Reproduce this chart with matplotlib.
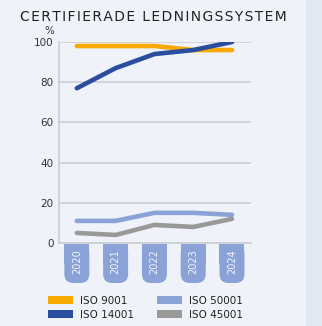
import matplotlib.pyplot as plt
from matplotlib.patches import Rectangle, FancyBboxPatch, Patch

years = ['2020', '2021', '2022', '2023', '2024']
iso9001 = [98, 98, 98, 96, 96]
iso14001 = [77, 87, 94, 96, 100]
iso50001 = [11, 11, 15, 15, 14]
iso45001 = [5, 4, 9, 8, 12]

series = [
    ('ISO 9001', iso9001, '#F7A900'),
    ('ISO 14001', iso14001, '#2A4D9E'),
    ('ISO 50001', iso50001, '#8AA2D6'),
    ('ISO 45001', iso45001, '#999999'),
]

bg = '#EFF3F9'
W, H = 322, 326
fig = plt.figure(figsize=(W / 100, H / 100), dpi=100, facecolor=bg)

# darker strip on the right edge
fig.patches.append(Rectangle((306 / W, 0), 16 / W, 1, transform=fig.transFigure,
                             facecolor='#E1E8F1', edgecolor='none', zorder=0))

left, right, top, bottom = 59, 251, 42, 243
ax = fig.add_axes([left / W, 1 - bottom / H, (right - left) / W, (bottom - top) / H])
ax.set_facecolor(bg)
x = list(range(len(years)))
xlim = (-0.46, len(years) - 1 + 0.49)
ax.set_xlim(*xlim)
ax.set_ylim(0, 100)

for label, vals, col in series:
    ax.plot(x, vals, color=col, lw=3.3, solid_capstyle='round', solid_joinstyle='round', zorder=3)

ax.set_yticks([0, 20, 40, 60, 80, 100])
ax.yaxis.grid(True, color='#C9CBCE', lw=1.1)
ax.set_axisbelow(True)
ax.set_xticks([])
ax.tick_params(axis='y', length=0, pad=4, labelsize=7.5, labelcolor='#333333')
for s in ['top', 'right']:
    ax.spines[s].set_visible(False)
for s in ['left', 'bottom']:
    ax.spines[s].set_color('#C9CBCE')
    ax.spines[s].set_linewidth(1.1)

# year labels in rounded tabs under the axis
tab_top, tab_bot = 244, 283
tab_ax = fig.add_axes([left / W, 1 - tab_bot / H, (right - left) / W, (tab_bot - tab_top) / H])
tab_ax.set_xlim(*xlim)
unit_px = (right - left) / (xlim[1] - xlim[0])
hgt = (tab_bot - tab_top) / unit_px
tab_ax.set_ylim(hgt, 0)
tab_ax.axis('off')
tw = 25 / unit_px
r = 9 / unit_px
for i, yr in enumerate(years):
    tab_ax.add_patch(Rectangle((i - tw / 2, 0), tw, hgt / 2, facecolor='#8AA2D6', edgecolor='none'))
    tab_ax.add_patch(FancyBboxPatch((i - tw / 2 + r, r), tw - 2 * r, hgt - 2 * r,
                                    boxstyle=f'round,pad={r},rounding_size={r}',
                                    facecolor='#8AA2D6', edgecolor='none'))
    tab_ax.text(i, 18 / unit_px, yr, rotation=90, ha='center', va='center',
                fontsize=7, color='#F2F5FA')

# spaced-out title
title = 'CERTIFIERADE LEDNINGSSYSTEM'
fig.text(153.5 / W, 1 - 17 / H, '\u200a'.join(title), ha='center', va='center',
         fontsize=10, color='#222222')
fig.text(49 / W, 1 - 31 / H, '%', ha='center', va='center', fontsize=7.5, color='#333333')

handles = [Patch(facecolor=c, edgecolor='none', label=l) for l, _, c in series]
fig.legend(handles=handles, ncol=2, loc='upper left', bbox_to_anchor=(48 / W, 1 - 296 / H),
           frameon=False, fontsize=7.5, handlelength=2.4, handleheight=0.8,
           handletextpad=0.7, columnspacing=2.2, borderpad=0, borderaxespad=0,
           labelspacing=0.35, labelcolor='#222222')

fig.savefig('out.png', dpi=100, facecolor=bg)
